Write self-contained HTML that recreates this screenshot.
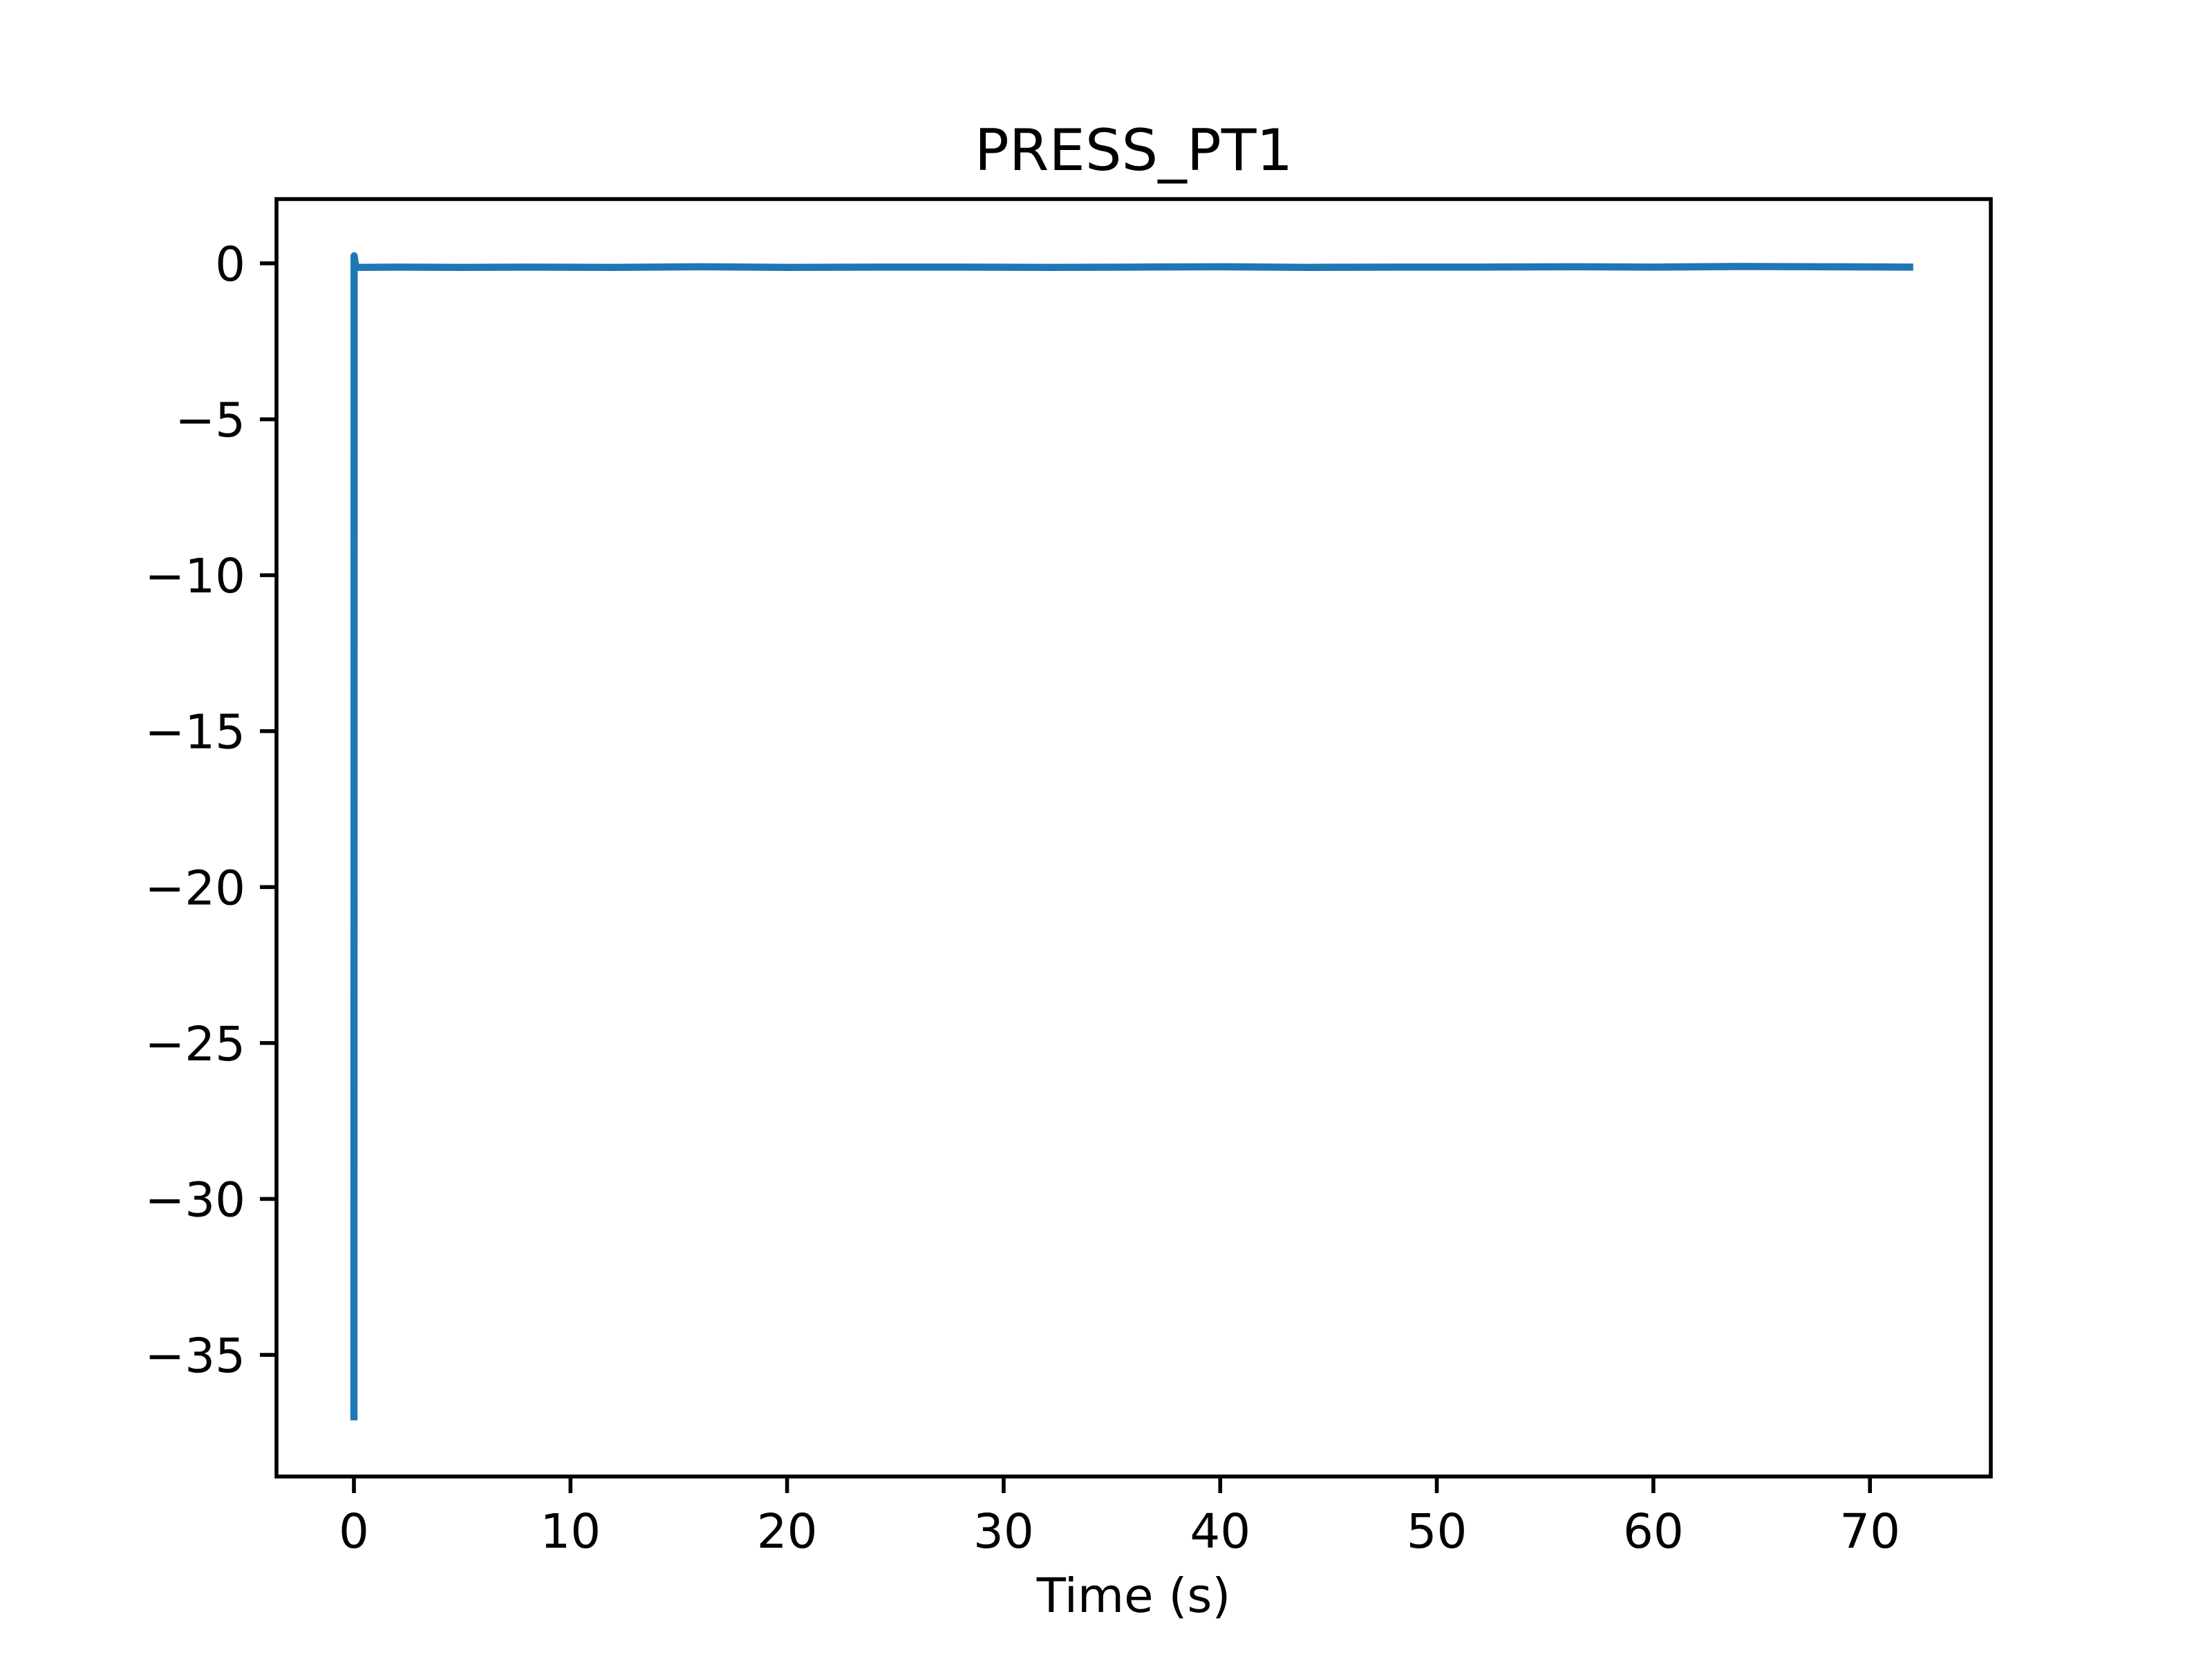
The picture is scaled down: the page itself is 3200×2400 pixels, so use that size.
<!DOCTYPE html>
<html><head><meta charset="utf-8"><style>
html,body{margin:0;padding:0;background:#fff;}
svg{display:block;font-family:"DejaVu Sans","Liberation Sans",sans-serif;}
</style></head><body>
<svg id="chart" width="3200" height="2400" viewBox="0 0 3200 2400" xmlns="http://www.w3.org/2000/svg">
<rect x="0" y="0" width="3200" height="2400" fill="#fff"/>
<text x="1640" y="246" font-size="83" text-anchor="middle">PRESS_PT1</text>
<g id="plot"></g>
<g id="xt"></g>
<g id="yt"></g>
<rect x="400" y="288" width="2480" height="1848" fill="none" stroke="#000" stroke-width="5.6"/>
<text x="1640" y="2332" font-size="69" text-anchor="middle">Time (s)</text>
</svg>
<script>
const times = [0, 0.01, 0.08, 0.3, 2, 5, 8, 12, 16, 20, 24, 28, 32, 36, 40, 44, 48, 52, 56, 60, 64, 68, 72];
const pressure = [-37.1, 0.24, -0.12, -0.13, -0.12, -0.13, -0.12, -0.13, -0.11, -0.13, -0.12, -0.12, -0.13, -0.12, -0.11, -0.13, -0.12, -0.12, -0.11, -0.12, -0.10, -0.11, -0.12];
const xTicks = [0, 10, 20, 30, 40, 50, 60, 70];
const yTicks = [0, -5, -10, -15, -20, -25, -30, -35];
const yTickLabels = ["0", "\u22125", "\u221210", "\u221215", "\u221220", "\u221225", "\u221230", "\u221235"];

const L=400,R=2880,T=288,B=2136;
const xmin=-3.575,xmax=75.58,ymin=-38.90,ymax=2.06;
function sx(v){return L+(v-xmin)/(xmax-xmin)*(R-L);}
function sy(v){return B-(v-ymin)/(ymax-ymin)*(B-T);}
const NS="http://www.w3.org/2000/svg";
const plot=document.getElementById('plot');
const p=document.createElementNS(NS,'polyline');


p.setAttribute('points',times.map((t,i)=>sx(t).toFixed(1)+','+sy(pressure[i]).toFixed(1)).join(' '));
p.setAttribute('fill','none');p.setAttribute('stroke','#1f77b4');p.setAttribute('stroke-width','10.4');
p.setAttribute('stroke-linecap','butt');p.setAttribute('stroke-linejoin','round');
plot.appendChild(p);
const xt=document.getElementById('xt');
xTicks.forEach(v=>{
  const x=sx(v);
  const l=document.createElementNS(NS,'line');
  
  
  l.setAttribute('x1',x);l.setAttribute('x2',x);l.setAttribute('y1',B);l.setAttribute('y2',B+24);
  l.setAttribute('stroke','#000');l.setAttribute('stroke-width','5.6');xt.appendChild(l);
  const t=document.createElementNS(NS,'text');
  
  
  t.setAttribute('x',x);t.setAttribute('y',B+103);t.setAttribute('font-size','69');t.setAttribute('text-anchor','middle');
  t.textContent=String(v);xt.appendChild(t);
});
const yt=document.getElementById('yt');
yTicks.forEach((v,i)=>{
  const y=sy(v);
  const l=document.createElementNS(NS,'line');
  
  
  l.setAttribute('x1',L-24);l.setAttribute('x2',L);l.setAttribute('y1',y);l.setAttribute('y2',y);
  l.setAttribute('stroke','#000');l.setAttribute('stroke-width','5.6');yt.appendChild(l);
  const t=document.createElementNS(NS,'text');
  
  
  t.setAttribute('x',L-45);t.setAttribute('y',y+25);t.setAttribute('font-size','69');t.setAttribute('text-anchor','end');
  t.textContent=yTickLabels[i];yt.appendChild(t);
});
</script>
</body></html>
